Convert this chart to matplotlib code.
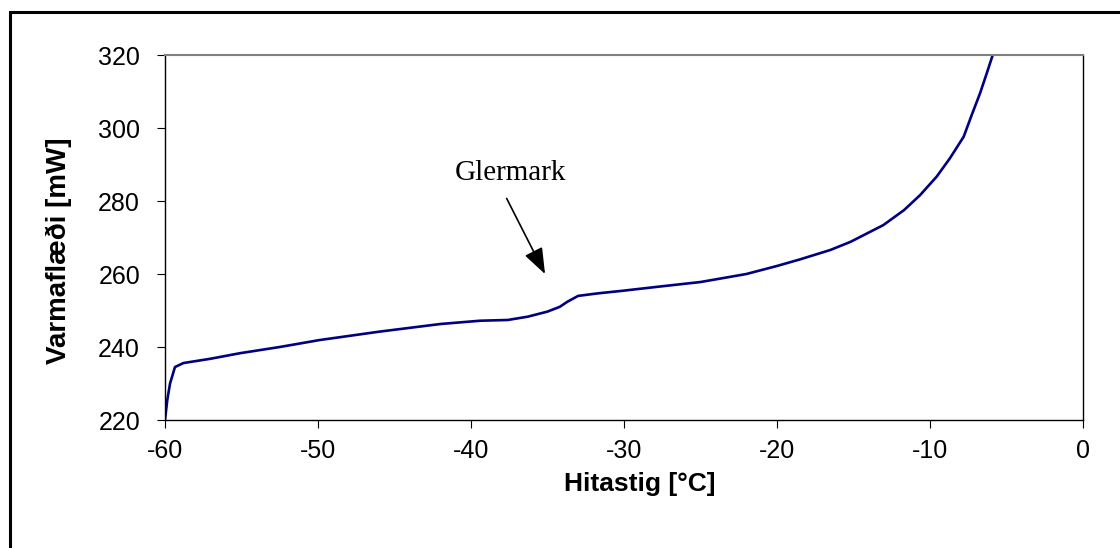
import numpy as np
import matplotlib.pyplot as plt
from matplotlib.patches import Rectangle

# heat flow vs temperature
temp = [-60.0, -59.85, -59.67, -59.35, -58.8, -57.0, -55.1, -52.5, -49.9, -46.0,
        -42.0, -39.4, -37.6, -36.3, -35.0, -34.2, -33.7, -33.0, -31.7, -30.1,
        -27.8, -26.3, -25.0, -22.0, -20.0, -18.5, -16.5, -15.2, -13.05, -11.7,
        -10.65, -9.56, -8.7, -7.8, -7.27, -6.73, -6.29, -5.9]
flow = [220.0, 225.5, 230.0, 234.5, 235.6, 236.8, 238.3, 240.0, 241.9, 244.2,
        246.3, 247.2, 247.4, 248.3, 249.7, 251.0, 252.4, 254.0, 254.7, 255.4,
        256.5, 257.2, 257.8, 260.0, 262.2, 264.0, 266.6, 268.8, 273.4, 277.5,
        281.6, 286.7, 291.7, 297.6, 303.6, 309.5, 315.0, 320.0]

xticks = [-60, -50, -40, -30, -20, -10, 0]
yticks = [220, 240, 260, 280, 300, 320]

plt.rcParams['font.family'] = ['Liberation Sans', 'DejaVu Sans']
plt.rcParams['axes.unicode_minus'] = False

fig = plt.figure(figsize=(11.2, 5.48), dpi=100)
ax = fig.add_axes([165/1120, 1-420/548, 918/1120, 365/548])

ax.plot(temp, flow, color='#000080', lw=1.9)

ax.set_xlim(-60, 0)
ax.set_ylim(220, 320)
ax.set_xticks(xticks)
ax.set_yticks(yticks)
ax.tick_params(axis='both', direction='out', length=6, width=0.8, labelsize=18)
ax.tick_params(axis='y', pad=12)
ax.tick_params(axis='x', pad=8)
for s in ['left', 'bottom', 'right']:
    ax.spines[s].set_color('black')
    ax.spines[s].set_linewidth(1.0)
ax.spines['top'].set_color('#808080')
ax.spines['top'].set_linewidth(1.5)

ax.set_xlabel('Hitastig [°C]', fontsize=19, fontweight='bold')
ax.set_ylabel('Varmaflæði [mW]', fontsize=20, fontweight='bold')
ax.xaxis.set_label_coords((640-165)/918, -(472-420)/365)
ax.yaxis.set_label_coords(-(165-72)/918, (420-251)/365)

# glass transition marker
ax.text(-37.45, 285.8, 'Glermark', family=['Liberation Serif', 'DejaVu Serif'],
        fontsize=21, ha='center', va='baseline')
ax.annotate('', xy=(-35.16, 260.0), xytext=(-37.67, 280.7),
            arrowprops=dict(arrowstyle='-|>,head_length=1.6,head_width=0.6',
                            color='black', lw=1.2, shrinkA=0, shrinkB=0))

# outer frame
fig.patches.append(Rectangle((9.5/1120, -0.1), 1.2, 1.1 - 12.5/548,
                             transform=fig.transFigure, fill=False,
                             edgecolor='black', lw=2.2))

fig.savefig('out.png', dpi=100)
